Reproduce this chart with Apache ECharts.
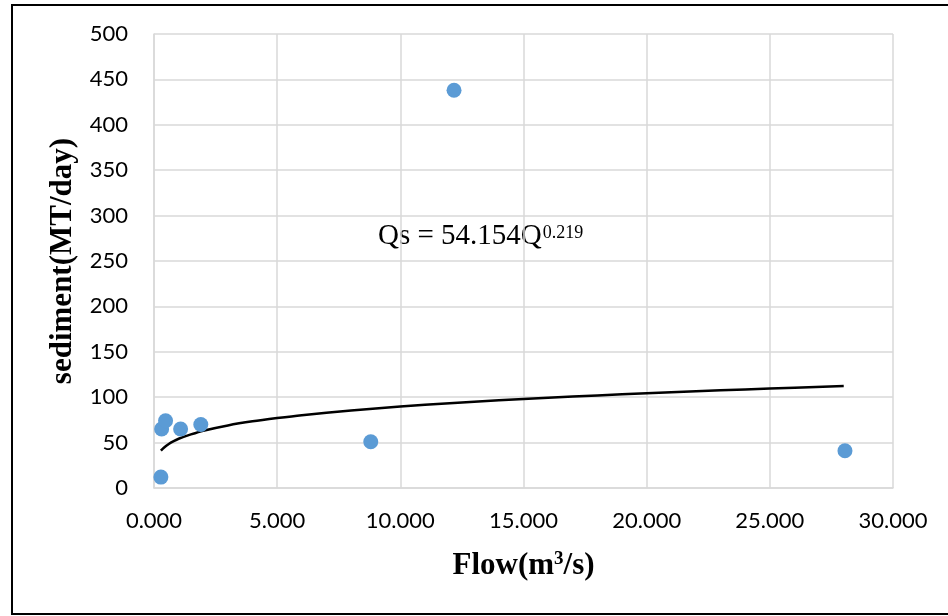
<!DOCTYPE html>
<html>
<head>
<meta charset="utf-8">
<script src="https://cdn.jsdelivr.net/npm/echarts@6/dist/echarts.min.js"></script>
<style>
html,body{margin:0;padding:0;background:#fff;}
#chart{width:948px;height:616px;}
</style>
</head>
<body>
<div id="chart"></div>
<script>
// Observed data (Flow, sediment)
const flow = [0.28, 0.31, 0.47, 1.08, 1.90, 8.80, 12.18, 28.05];
const sediment = [12, 65, 74, 65, 70, 51, 438, 41];
// Power trend line (Qs = 54.154Q^0.219)
const trendFlow = [0.28, 0.4, 0.6, 0.8, 1, 1.5, 2, 3, 4, 5, 6, 8, 10, 12, 14, 16, 18, 20, 22, 24, 26, 28];
const trendSed = [41.1, 44.4, 48.5, 51.6, 54.2, 59.0, 63.1, 68.9, 73.4, 77.0, 80.2, 85.4, 89.7, 93.4, 96.6, 99.5, 102.0, 104.4, 106.6, 108.6, 110.5, 112.4];
// Axis settings
const xTicks = [0, 5, 10, 15, 20, 25, 30];
const yTicks = [0, 50, 100, 150, 200, 250, 300, 350, 400, 450, 500];
const xTitle = '{t|Flow(m}{s|3}{t|/s)}';
const yTitle = 'sediment(MT/day)';
const equation = 'Qs = 54.154Q';
const exponent = '0.219';

const chart = echarts.init(document.getElementById('chart'));
const gridColor = '#d9d9d9';
const tickFont = {fontFamily: 'Lato', fontSize: 22, color: '#000'};
const titleFont = {fontFamily: 'Liberation Serif', fontWeight: 'bold', fontSize: 31, color: '#000'};

const eqStyle = {text: equation, fontFamily: 'Liberation Serif', fontSize: 29, fill: '#000'};
const eqWidth = new echarts.graphic.Text({style: eqStyle}).getBoundingRect().width;
const eqLeft = 378;

chart.setOption({
  animation: false,
  backgroundColor: '#fff',
  grid: {left: 154, right: 55, top: 34, bottom: 128},
  xAxis: {
    type: 'value',
    min: xTicks[0], max: xTicks[xTicks.length - 1], interval: 5,
    axisLine: {show: true, lineStyle: {color: gridColor, width: 1.5}},
    axisTick: {show: false},
    splitLine: {show: true, lineStyle: {color: gridColor, width: 1.5}},
    axisLabel: Object.assign({margin: 22, formatter: v => v.toFixed(3)}, tickFont),
    name: xTitle, nameLocation: 'middle', nameGap: 62,
    nameTextStyle: Object.assign({}, titleFont, {
      rich: {
        t: titleFont,
        s: {fontFamily: 'Liberation Serif', fontWeight: 'bold', fontSize: 19, color: '#000', padding: [0, 0, 12, 0]}
      }
    })
  },
  yAxis: {
    type: 'value',
    min: yTicks[0], max: yTicks[yTicks.length - 1], interval: 50,
    axisLine: {show: true, lineStyle: {color: gridColor, width: 1.5}},
    axisTick: {show: false},
    splitLine: {show: true, lineStyle: {color: gridColor, width: 1.5}},
    axisLabel: Object.assign({margin: 26}, tickFont),
    name: yTitle, nameLocation: 'middle', nameGap: 72, nameRotate: 90,
    nameTextStyle: titleFont
  },
  series: [
    {
      type: 'line',
      data: trendFlow.map((x, i) => [x, trendSed[i]]),
      smooth: 0.3,
      showSymbol: false,
      lineStyle: {color: '#000', width: 2.5},
      z: 3
    },
    {
      type: 'scatter',
      data: flow.map((x, i) => [x, sediment[i]]),
      symbolSize: 15,
      itemStyle: {color: '#5b9bd5', opacity: 1},
      z: 4
    }
  ],
  graphic: [
    {
      type: 'rect', silent: true,
      shape: {x: 12, y: 5, width: 960, height: 609},
      style: {fill: 'none', stroke: '#000', lineWidth: 2}
    },
    {
      type: 'text', left: eqLeft, top: 222,
      style: eqStyle
    },
    {
      type: 'text', left: eqLeft + eqWidth + 1, top: 224,
      style: {text: exponent, fontFamily: 'Liberation Serif', fontSize: 18, fill: '#000'}
    }
  ]
});
</script>
</body>
</html>
